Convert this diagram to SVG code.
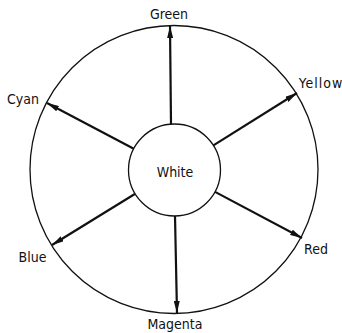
<svg xmlns="http://www.w3.org/2000/svg" width="342" height="333" viewBox="0 0 342 333">
<defs>
<marker id="ah" viewBox="0 0 12 6" refX="12" refY="3" markerWidth="12" markerHeight="6" markerUnits="userSpaceOnUse" orient="auto">
<path d="M0,0 L12,3 L0,6 Z" fill="#111"/>
</marker>
<style>
.lbl{font-family:'DejaVu Sans Condensed','DejaVu Sans',sans-serif;font-stretch:condensed;font-size:14px;fill:#111;text-anchor:middle}
.ring{fill:none;stroke:#111;stroke-width:1.3}
.arr{stroke:#111;stroke-width:2.2;fill:none;marker-end:url(#ah)}
</style>
</defs>
<rect width="342" height="333" fill="#fff"/>
<g id="outer"><circle class="ring" cx="174" cy="169.5" r="144"/></g>
<g id="connectors">
<line class="arr" x1="171" y1="124" x2="170" y2="26"/>
<line class="arr" x1="133.3" y1="148.5" x2="47" y2="103"/>
<line class="arr" x1="213" y1="145.6" x2="297" y2="93"/>
<line class="arr" x1="214.6" y1="191.6" x2="302" y2="238"/>
<line class="arr" x1="134.8" y1="194" x2="52" y2="245"/>
<line class="arr" x1="175" y1="216" x2="177" y2="313"/>
</g>
<g id="white"><circle cx="174.5" cy="170" r="46" fill="#fff" stroke="#111" stroke-width="1.3"/><text class="lbl" x="175" y="177">White</text></g>
<g id="green"><text class="lbl" x="169" y="19">Green</text></g>
<g id="cyan"><text class="lbl" x="23" y="104">Cyan</text></g>
<g id="yellow"><text class="lbl" x="321" y="88" letter-spacing="1">Yellow</text></g>
<g id="blue"><text class="lbl" x="32.5" y="262">Blue</text></g>
<g id="red"><text class="lbl" x="316" y="254">Red</text></g>
<g id="magenta"><text class="lbl" x="175" y="329">Magenta</text></g>
</svg>
